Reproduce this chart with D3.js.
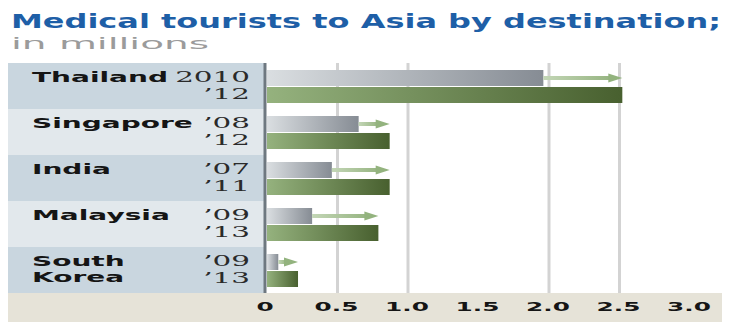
<!DOCTYPE html>
<html>
<head>
<meta charset="utf-8">
<script src="https://cdn.jsdelivr.net/npm/d3@7"></script>
<style>
  body { margin: 0; background: #fff; }
  svg { display: block; }
</style>
</head>
<body>
<script>
var countries = ["Thailand", "Singapore", "India", "Malaysia", "South Korea"];
var yearFrom = ["2010", "\u201908", "\u201907", "\u201909", "\u201909"];
var yearTo = ["\u201912", "\u201912", "\u201911", "\u201913", "\u201913"];
var valFrom = [1.96, 0.65, 0.46, 0.32, 0.08];
var valTo = [2.52, 0.87, 0.87, 0.79, 0.22];
var tickVals = [0, 0.5, 1.0, 1.5, 2.0, 2.5, 3.0];
var tickLabels = ["0", "0.5", "1.0", "1.5", "2.0", "2.5", "3.0"];
var gridVals = [0.5, 1.0, 2.0, 2.5];

var W = 731, H = 322;

var x = d3.scaleLinear().domain([0, 3]).range([267, 690]);
var y = d3.scaleBand().domain(countries).range([63, 293]);

var svg = d3.select("body").append("svg")
	.attr("width", W)
	.attr("height", H);

var defs = svg.append("defs");

function grad(id, c0, c1) {
	var g = defs.append("linearGradient").attr("id", id);
	g.append("stop").attr("offset", "0%").attr("stop-color", c0);
	g.append("stop").attr("offset", "100%").attr("stop-color", c1);
}
grad("gGrey", "#dadee1", "#868c94");
grad("gGreen", "#95b27e", "#48602f");
grad("gArrow", "#c3d6b6", "#97b582");

// stretch text horizontally (the original type is very wide)
function stretch(sel, k, anchorRight) {
	sel.each(function() {
		var t = d3.select(this);
		var w = this.getComputedTextLength();
		t.attr("textLength", w * k).attr("lengthAdjust", "spacingAndGlyphs");
		if (anchorRight) t.attr("x", +t.attr("x") - w * k);
	});
}

// title
svg.append("text")
	.attr("x", 11).attr("y", 28)
	.style("font-family", "DejaVu Sans")
	.style("font-weight", "bold")
	.style("font-size", "20px")
	.style("fill", "#1e5fa7")
	.attr("textLength", 710)
	.attr("lengthAdjust", "spacingAndGlyphs")
	.text("Medical tourists to Asia by destination;");

svg.append("text")
	.attr("x", 11).attr("y", 49)
	.style("font-family", "DejaVu Sans")
	.style("font-size", "16px")
	.style("fill", "#9b9b9b")
	.attr("textLength", 198)
	.attr("lengthAdjust", "spacingAndGlyphs")
	.text("in millions");

// row backgrounds in label panel
svg.selectAll("rect.row")
	.data(countries)
	.enter().append("rect")
	.attr("class", "row")
	.attr("x", 8)
	.attr("y", function(d) { return y(d); })
	.attr("width", 257)
	.attr("height", y.bandwidth())
	.style("fill", function(d, i) { return i % 2 === 0 ? "#c9d6df" : "#e2e8ec"; });

// axis band
svg.append("rect")
	.attr("x", 8).attr("y", 293)
	.attr("width", 714).attr("height", H - 293)
	.style("fill", "#e6e3d8");

// gridlines
svg.selectAll("line.grid")
	.data(gridVals)
	.enter().append("line")
	.attr("class", "grid")
	.attr("x1", function(d) { return x(d); })
	.attr("x2", function(d) { return x(d); })
	.attr("y1", 63).attr("y2", 293)
	.style("stroke", "#d3d3d3")
	.style("stroke-width", 3);

// bars
var rows = svg.selectAll("g.bar")
	.data(countries)
	.enter().append("g")
	.attr("class", "bar")
	.attr("transform", function(d) { return "translate(0," + y(d) + ")"; });

rows.append("rect")
	.attr("x", x(0))
	.attr("y", 7)
	.attr("width", function(d, i) { return x(valFrom[i]) - x(0); })
	.attr("height", 16)
	.style("fill", "url(#gGrey)");

rows.append("rect")
	.attr("x", x(0))
	.attr("y", 24)
	.attr("width", function(d, i) { return x(valTo[i]) - x(0); })
	.attr("height", 16)
	.style("fill", "url(#gGreen)");

// arrows from earlier to later value
rows.append("rect")
	.attr("x", function(d, i) { return x(valFrom[i]); })
	.attr("y", 13)
	.attr("width", function(d, i) { return Math.max(0, x(valTo[i]) - x(valFrom[i]) - 12); })
	.attr("height", 4)
	.style("fill", "url(#gArrow)");

rows.append("path")
	.attr("d", function(d, i) {
		var e = x(valTo[i]);
		return "M" + (e - 14) + ",10.5L" + e + ",15L" + (e - 14) + ",19.5Z";
	})
	.style("fill", "#93b37e");

// axis line
svg.append("line")
	.attr("x1", 265).attr("x2", 265)
	.attr("y1", 63).attr("y2", 293)
	.style("stroke", "#6e7880")
	.style("stroke-width", 3);

// labels
var labelFont = function(s) {
	return s.style("font-family", "DejaVu Sans")
		.style("font-weight", "bold")
		.style("font-size", "14px")
		.style("fill", "#151515");
};

rows.each(function(d, i) {
	var g = d3.select(this);
	var parts = d.split(" ");
	parts.forEach(function(p, j) {
		g.append("text")
			.attr("x", 32)
			.attr("y", 19 + j * 16)
			.call(labelFont)
			.text(p);
	});
	g.append("text").attr("class", "yr")
		.attr("x", 250).attr("y", 19)
		.text(yearFrom[i]);
	g.append("text").attr("class", "yr")
		.attr("x", 250).attr("y", 36)
		.text(yearTo[i]);
});

rows.selectAll("text:not(.yr)").call(function(s) { stretch(s, 2.0, false); });

rows.selectAll("text.yr")
	.style("font-family", "DejaVu Serif")
	.style("font-size", "14px")
	.style("fill", "#2a2a2a")
	.call(function(s) { stretch(s, 2.1, true); });

// tick labels
svg.selectAll("text.tick")
	.data(tickVals)
	.enter().append("text")
	.attr("class", "tick")
	.attr("y", 311)
	.style("font-family", "DejaVu Sans")
	.style("font-weight", "bold")
	.style("font-size", "13px")
	.style("fill", "#151515")
	.text(function(d, i) { return tickLabels[i]; })
	.each(function(d) {
		var w = this.getComputedTextLength() * 1.9;
		d3.select(this)
			.attr("textLength", w)
			.attr("lengthAdjust", "spacingAndGlyphs")
			.attr("x", x(d) - w / 2 - (d === 0 ? 2 : 1));
	});
</script>
</body>
</html>
